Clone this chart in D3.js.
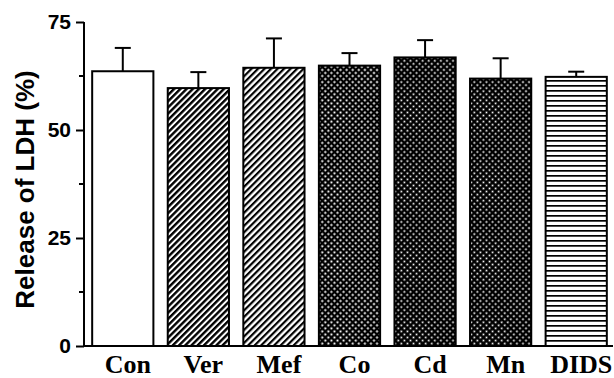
<!DOCTYPE html>
<html>
<head>
<meta charset="utf-8">
<script src="https://cdn.jsdelivr.net/npm/d3@7"></script>
<style>
  html, body { margin: 0; padding: 0; background: #fff; }
</style>
</head>
<body>
<div id="chart"></div>
<script>
// LDH release bar chart, patterned bars with upper error bars

const categories = ["Con", "Ver", "Mef", "Co", "Cd", "Mn", "DIDS"];
const means = [63.6, 59.7, 64.4, 64.9, 66.8, 61.9, 62.3];
const errors = [5.4, 3.7, 6.8, 2.9, 4.0, 4.7, 1.2];
const fills = ["white", "diagA", "diagB", "crossA", "crossB", "crossB", "horiz"];
const majorTicks = [0, 25, 50, 75];
const minorTicks = [12.5, 37.5, 62.5];

const W = 614;
const H = 378;

const svg = d3.select("#chart").append("svg")
  .attr("width", W)
  .attr("height", H);

const defs = svg.append("defs");

// diagonal stripes, "/" direction
function diagPattern(id, period, sw) {
  const p = defs.append("pattern")
    .attr("id", id)
    .attr("patternUnits", "userSpaceOnUse")
    .attr("width", period)
    .attr("height", period)
    .attr("patternTransform", "rotate(45)");
  p.append("rect").attr("width", period).attr("height", period).attr("fill", "#fff");
  p.append("rect").attr("x", 0).attr("y", 0).attr("width", sw).attr("height", period).attr("fill", "#000");
}
diagPattern("diagA", 4.4, 2.4);
diagPattern("diagB", 4.6, 2.2);

// dense crosshatch: black with white diamond holes
function crossPattern(id, period, hole) {
  const p = defs.append("pattern")
    .attr("id", id)
    .attr("patternUnits", "userSpaceOnUse")
    .attr("width", period)
    .attr("height", period)
    .attr("patternTransform", "rotate(45)");
  p.append("rect").attr("width", period).attr("height", period).attr("fill", "#000");
  p.append("rect")
    .attr("x", (period - hole) / 2)
    .attr("y", (period - hole) / 2)
    .attr("width", hole)
    .attr("height", hole)
    .attr("fill", "#fff");
}
crossPattern("crossA", 4.3, 1.9);
crossPattern("crossB", 4.3, 1.7);

// horizontal lines
const hp = defs.append("pattern")
  .attr("id", "horiz")
  .attr("patternUnits", "userSpaceOnUse")
  .attr("width", 8)
  .attr("height", 5);
hp.append("rect").attr("width", 8).attr("height", 5).attr("fill", "#fff");
hp.append("rect").attr("x", 0).attr("y", 0).attr("width", 8).attr("height", 1.7).attr("fill", "#000");

// scales
const x = d3.scaleBand()
  .domain(categories)
  .range([85, 614])
  .paddingInner(0.19)
  .paddingOuter(0.095);

const y = d3.scaleLinear()
  .domain([0, 75])
  .range([346, 22]);

// bars
const bars = svg.append("g");
categories.forEach((c, i) => {
  bars.append("rect")
    .attr("x", x(c))
    .attr("y", y(means[i]))
    .attr("width", x.bandwidth())
    .attr("height", y(0) - y(means[i]))
    .attr("fill", fills[i] === "white" ? "#fff" : `url(#${fills[i]})`)
    .attr("stroke", "#000")
    .attr("stroke-width", 2);
});

// error bars (upper only)
const errG = svg.append("g").attr("stroke", "#000").attr("stroke-width", 2);
categories.forEach((c, i) => {
  const cx = x(c) + x.bandwidth() / 2;
  errG.append("line")
    .attr("x1", cx).attr("x2", cx)
    .attr("y1", y(means[i])).attr("y2", y(means[i] + errors[i]));
  errG.append("line")
    .attr("x1", cx - 8).attr("x2", cx + 8)
    .attr("y1", y(means[i] + errors[i])).attr("y2", y(means[i] + errors[i]));
});

// y axis
const yAxis = svg.append("g")
  .attr("transform", "translate(84,0)")
  .call(d3.axisLeft(y).tickValues(majorTicks).tickSize(8).tickPadding(5).tickFormat(d3.format("d")));
yAxis.select(".domain").attr("stroke", "#000").attr("stroke-width", 2).attr("d", `M0,${y(75)}V${y(0)}`);
yAxis.selectAll(".tick line").attr("stroke", "#000").attr("stroke-width", 2);
yAxis.selectAll(".tick text")
  .attr("font-family", "Liberation Sans, Arial, sans-serif")
  .attr("font-weight", "bold")
  .attr("font-size", 21)
  .attr("fill", "#000");

svg.append("g")
  .attr("stroke", "#000")
  .attr("stroke-width", 2)
  .selectAll("line")
  .data(minorTicks)
  .join("line")
  .attr("x1", 79).attr("x2", 84)
  .attr("y1", d => y(d)).attr("y2", d => y(d));

// x baseline
svg.append("line")
  .attr("x1", 83).attr("x2", 613)
  .attr("y1", y(0)).attr("y2", y(0))
  .attr("stroke", "#000")
  .attr("stroke-width", 2);

// category labels
svg.append("g")
  .selectAll("text")
  .data(categories)
  .join("text")
  .attr("x", d => x(d) + x.bandwidth() / 2 + 5)
  .attr("y", 373)
  .attr("text-anchor", "middle")
  .attr("font-family", "Liberation Serif, Times New Roman, serif")
  .attr("font-weight", "bold")
  .attr("font-size", 26)
  .attr("fill", "#000")
  .text(d => d);

// y axis title
svg.append("text")
  .attr("transform", `translate(34,${(72 + 307) / 2}) rotate(-90)`)
  .attr("text-anchor", "middle")
  .attr("font-family", "Liberation Sans, Arial, sans-serif")
  .attr("font-weight", "bold")
  .attr("font-size", 26)
  .attr("fill", "#000")
  .text("Release of LDH (%)");
</script>
</body>
</html>
